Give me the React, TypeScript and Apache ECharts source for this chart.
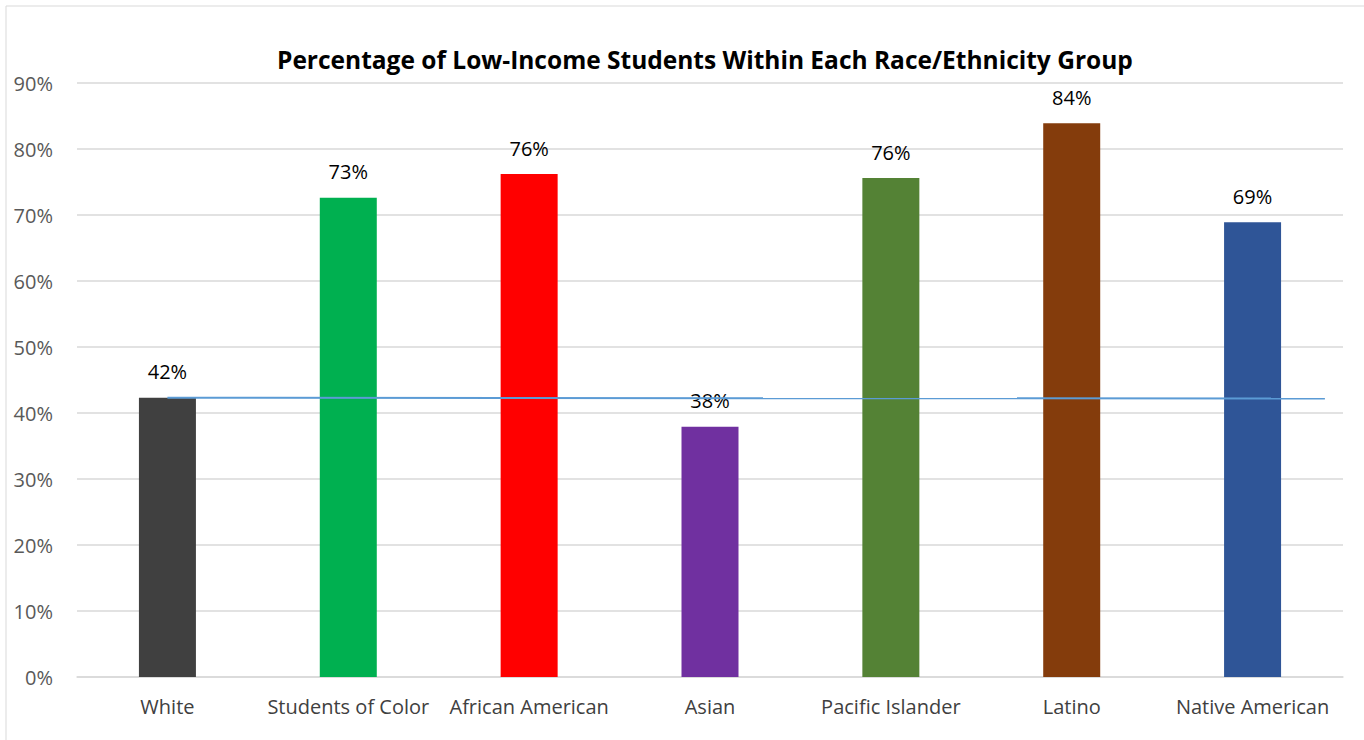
import React, { useEffect, useRef } from "react";
import * as echarts from "echarts";

const categories = [
  "White",
  "Students of Color",
  "African American",
  "Asian",
  "Pacific Islander",
  "Latino",
  "Native American",
];
const values = [42.3, 72.6, 76.2, 37.9, 75.6, 83.9, 68.9];
const barColors = ["#404040", "#00b050", "#ff0000", "#7030a0", "#548235", "#843c0c", "#2f5597"];
const dataLabels = ["42%", "73%", "76%", "38%", "76%", "84%", "69%"];
const refLine: [number, number][] = [
  [0.5, 42.3],
  [6.9, 42.2],
];
const title = "Percentage of Low-Income Students Within Each Race/Ethnicity Group";

export default function App() {
  const ref = useRef<HTMLDivElement>(null);
  useEffect(() => {
    if (!ref.current) return;
    const chart = echarts.init(ref.current, null, { renderer: "svg" });
    const font = "'Open Sans', 'Noto Sans', sans-serif";
    chart.setOption({
      animation: false,
      backgroundColor: "#ffffff",
      textStyle: { fontFamily: font },
      title: {
        text: title,
        left: 277,
        top: 47,
        padding: 0,
        textStyle: { fontSize: 24.5, fontWeight: "bold", color: "#000000", fontFamily: font },
      },
      graphic: [
        {
          type: "rect",
          shape: { x: 6, y: 6, width: 1400, height: 800 },
          style: { fill: "none", stroke: "#d9d9d9", lineWidth: 1 },
          silent: true,
        },
      ],
      grid: { left: 77, right: 21, top: 83, bottom: 63, containLabel: false },
      xAxis: [
        {
          type: "category",
          data: categories,
          axisLine: { show: true, lineStyle: { color: "#d9d9d9", width: 1.5 } },
          axisTick: { show: false },
          axisLabel: { color: "#404040", fontSize: 20, margin: 19, interval: 0 },
        },
        {
          type: "value",
          min: 0,
          max: 7,
          show: false,
        },
      ],
      yAxis: {
        type: "value",
        min: 0,
        max: 90,
        interval: 10,
        axisLine: { show: false },
        axisTick: { show: false },
        splitLine: { lineStyle: { color: "#d9d9d9", width: 1.5 } },
        axisLabel: { color: "#595959", fontSize: 20, margin: 24, formatter: "{value}%" },
      },
      series: [
        {
          type: "bar",
          xAxisIndex: 0,
          barWidth: 57,
          data: values.map((v, i) => ({ value: v, itemStyle: { color: barColors[i] } })),
          label: {
            show: true,
            position: "top",
            distance: 16,
            color: "#000000",
            fontSize: 20,
            formatter: (p: any) => dataLabels[p.dataIndex],
          },
        },
        {
          type: "line",
          xAxisIndex: 1,
          data: refLine,
          symbol: "none",
          lineStyle: { color: "#5b9bd5", width: 2 },
          z: 5,
        },
      ],
    });
    return () => chart.dispose();
  }, []);
  return (
    <div
      ref={ref}
      style={{ position: "fixed", left: 0, top: 0, width: 1364, height: 740 }}
    />
  );
}
